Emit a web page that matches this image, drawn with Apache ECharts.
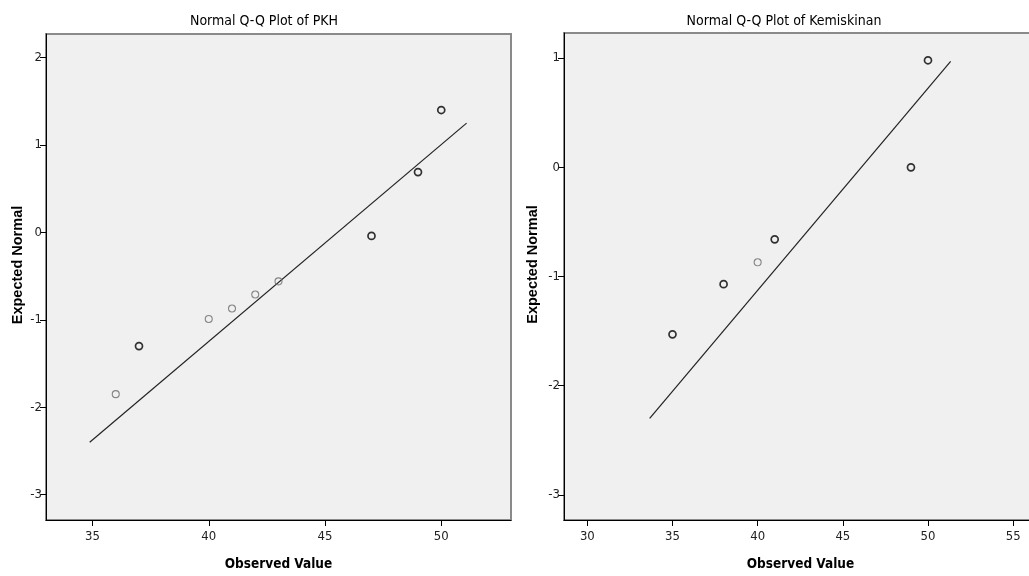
<!DOCTYPE html>
<html>
<head>
<meta charset="utf-8">
<script src="https://cdn.jsdelivr.net/npm/echarts@6/dist/echarts.min.js"></script>
<style>
html,body{margin:0;padding:0;background:#fff;overflow:hidden;width:1029px;height:576px;}
#c{width:1070px;height:576px;}
</style>
</head>
<body>
<div id="c"></div>
<script>
// ---- Data ----
const pkhObserved = [36, 37, 40, 41, 42, 43, 47, 49, 50];
const pkhExpected = [-1.85, -1.30, -0.99, -0.87, -0.71, -0.56, -0.04, 0.69, 1.40];
const pkhOverlap  = [1, 2, 1, 1, 1, 1, 2, 2, 2];
const pkhLineX = [34.88, 51.09];
const pkhLineY = [-2.40, 1.25];

const kemObserved = [35, 38, 40, 41, 49, 50];
const kemExpected = [-1.53, -1.07, -0.87, -0.66, 0.00, 0.98];
const kemOverlap  = [2, 2, 1, 2, 2, 2];
const kemLineX = [33.66, 51.33];
const kemLineY = [-2.30, 0.97];

const pkhXTicks = [35, 40, 45, 50];
const pkhYTicks = [-3, -2, -1, 0, 1, 2];
const kemXTicks = [30, 35, 40, 45, 50, 55];
const kemYTicks = [-3, -2, -1, 0, 1];

const titles = ['Normal Q-Q Plot of PKH', 'Normal Q-Q Plot of Kemiskinan'];
const xName = 'Observed Value';
const yName = 'Expected Normal';

// ---- Styling ----
const narrow = '"Liberation Sans Narrow","Arial Narrow","DejaVu Sans Condensed",sans-serif';
const wide = '"Liberation Sans",Arial,sans-serif';

function pts(xs, ys, cnt) {
  return xs.map((x, i) => ({
    value: [x, ys[i]],
    itemStyle: cnt[i] > 1
      ? { color: 'rgba(0,0,0,0)', borderColor: '#000', borderWidth: 1.7 }
      : { color: 'rgba(0,0,0,0)', borderColor: '#6a6a6a', borderWidth: 1.1 }
  }));
}
function line(xs, ys) { return xs.map((x, i) => [x, ys[i]]); }

function xAxis(idx, min, max, ticks, gap) {
  return {
    type: 'value', gridIndex: idx, min: min, max: max,
    name: xName, nameLocation: 'middle', nameGap: gap,
    nameTextStyle: { fontFamily: narrow, fontWeight: 'bold', fontSize: 13.5, color: '#000' },
    splitLine: { show: false },
    axisLine: { show: true, onZero: false, lineStyle: { color: '#000', width: 1 } },
    axisTick: { show: true, length: 6, inside: false, customValues: ticks, lineStyle: { color: '#000' } },
    axisLabel: { customValues: ticks, fontFamily: narrow, fontSize: 13, color: '#222', margin: 10 }
  };
}
function yAxis(idx, min, max, ticks, gap) {
  return {
    type: 'value', gridIndex: idx, min: min, max: max,
    name: yName, nameLocation: 'middle', nameGap: gap, nameRotate: 90,
    nameTextStyle: { fontFamily: wide, fontWeight: 'bold', fontSize: 14.5, color: '#000', padding: [0, 0, 0, 24] },
    splitLine: { show: false },
    axisLine: { show: true, onZero: false, lineStyle: { color: '#000', width: 1 } },
    axisTick: { show: true, length: 6, inside: false, customValues: ticks, lineStyle: { color: '#000' } },
    axisLabel: { customValues: ticks, fontFamily: narrow, fontSize: 13, color: '#222', margin: 4 }
  };
}

const chart = echarts.init(document.getElementById('c'), null, { renderer: 'canvas' });
chart.setOption({
  animation: false,
  backgroundColor: '#fff',
  title: [
    { text: titles[0], left: 259, top: 9, textAlign: 'center',
      textStyle: { fontFamily: narrow, fontWeight: 'normal', fontSize: 14, color: '#000' } },
    { text: titles[1], left: 779, top: 9, textAlign: 'center',
      textStyle: { fontFamily: narrow, fontWeight: 'normal', fontSize: 14, color: '#000' } }
  ],
  grid: [
    { left: 46, top: 34, width: 465, height: 487, show: true,
      backgroundColor: '#f0f0f0', borderColor: '#8a8a8a', borderWidth: 2 },
    { left: 564, top: 33, width: 473, height: 487, show: true,
      backgroundColor: '#f0f0f0', borderColor: '#8a8a8a', borderWidth: 2 }
  ],
  xAxis: [
    xAxis(0, 33, 53, pkhXTicks, 37),
    xAxis(1, 28.63, 56.4, kemXTicks, 37)
  ],
  yAxis: [
    yAxis(0, -3.29, 2.27, pkhYTicks, 21),
    yAxis(1, -3.23, 1.23, kemYTicks, 24)
  ],
  series: [
    { type: 'line', xAxisIndex: 0, yAxisIndex: 0, data: line(pkhLineX, pkhLineY),
      showSymbol: false, lineStyle: { color: '#222', width: 1.2 }, silent: true, z: 2 },
    { type: 'scatter', xAxisIndex: 0, yAxisIndex: 0, data: pts(pkhObserved, pkhExpected, pkhOverlap),
      symbol: 'circle', symbolSize: 7, z: 3 },
    { type: 'line', xAxisIndex: 1, yAxisIndex: 1, data: line(kemLineX, kemLineY),
      showSymbol: false, lineStyle: { color: '#222', width: 1.2 }, silent: true, z: 2 },
    { type: 'scatter', xAxisIndex: 1, yAxisIndex: 1, data: pts(kemObserved, kemExpected, kemOverlap),
      symbol: 'circle', symbolSize: 7, z: 3 }
  ]
});
</script>
</body>
</html>
